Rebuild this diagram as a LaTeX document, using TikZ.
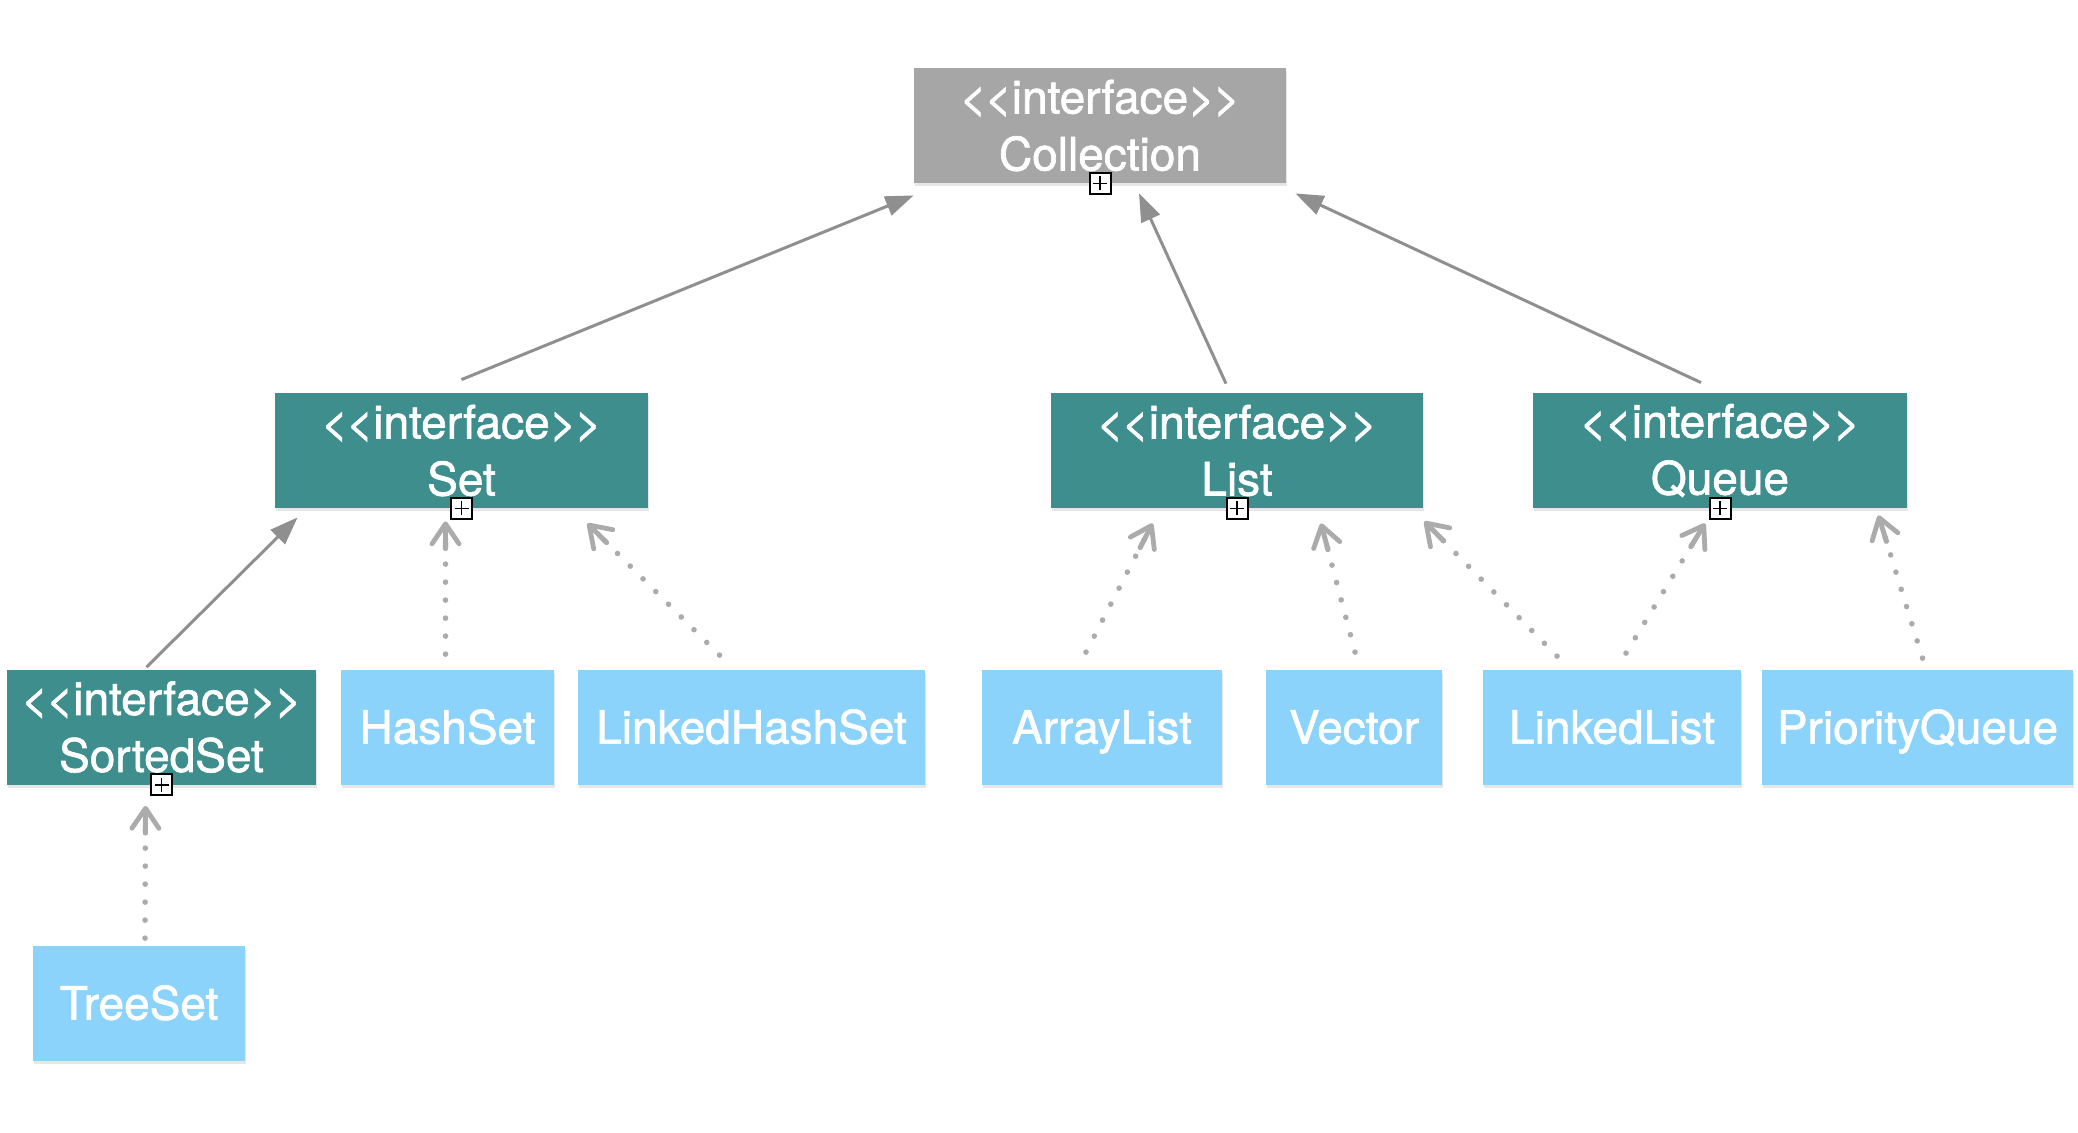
\documentclass[tikz,border=0pt]{standalone}
\usepackage{fontspec}
\setmainfont{TeX Gyre Heros}[FakeBold=1.4]
\usetikzlibrary{arrows.meta,shadows,calc}
\definecolor{collgray}{HTML}{A6A6A6}
\definecolor{ifteal}{HTML}{3E8E8E}
\definecolor{clblue}{HTML}{8CD3FB}
\definecolor{solidgray}{HTML}{8F8F8F}
\definecolor{dotgray}{HTML}{ABABAB}
\newcommand{\stereo}{<\kern-0.8pt<interface>\kern-0.8pt>}
\begin{document}
\begin{tikzpicture}[x=0.5pt,y=-0.5pt,
  boxbase/.style={rectangle, inner sep=0pt, text=white,
    font=\fontsize{23}{28.5}\selectfont, align=center, minimum height=57.5pt,
    drop shadow={shadow xshift=0.6pt, shadow yshift=-1.6pt, opacity=0.2}},
  iface/.style={boxbase, fill=ifteal},
  rootbox/.style={boxbase, fill=collgray},
  cls/.style={boxbase, fill=clblue, text height=16.6pt, text depth=0pt},
  marker/.style={draw=black, fill=white, line width=1pt, minimum size=10.5pt,
    inner sep=0pt,
    path picture={\draw[line width=0.7pt]
      ($(path picture bounding box.center)+(-7,0)$) -- ($(path picture bounding box.center)+(7,0)$)
      ($(path picture bounding box.center)+(0,-7)$) -- ($(path picture bounding box.center)+(0,7)$);}},
  extends/.style={draw=solidgray, line width=1.5pt,
    -{Triangle[length=14pt,width=10pt]}},
  realizes/.style={draw=dotgray, line width=2.8pt, line cap=round,
    dash pattern=on 0pt off 9pt,
    -{Straight Barb[length=10pt,width=0.2pt,line width=2.4pt,round,sep=-10pt]
      Straight Barb[length=10pt,width=13.5pt,line width=2.4pt,round]}}
]
\useasboundingbox (0,0) rectangle (2078,1132);

% interface boxes
\node[rootbox, minimum width=186pt] (coll) at (1100,125.5) {\stereo\\Collection};
\node[iface, minimum width=186.5pt] (set) at (461.5,450.5) {\stereo\\Set};
\node[iface, minimum width=186pt] (list) at (1237,450.5) {\stereo\\List};
\node[iface, minimum width=187pt] (queue) at (1720,450.5) {\stereo\\Queue};
\node[iface, minimum width=154.5pt] (sorted) at (161.5,727) {\stereo\\SortedSet};

% classes
\node[cls, minimum width=106.5pt] (hashset) at (447.5,727) {HashSet};
\node[cls, minimum width=173.5pt] (lhs) at (751.5,727) {LinkedHashSet};
\node[cls, minimum width=120pt] (arraylist) at (1102,727) {ArrayList};
\node[cls, minimum width=88pt] (vector) at (1354,727) {Vector};
\node[cls, minimum width=129pt] (linkedlist) at (1612,727) {LinkedList};
\node[cls, minimum width=155.5pt] (pq) at (1917.5,727) {PriorityQueue};
\node[cls, minimum width=106pt] (treeset) at (139,1003) {TreeSet};

% markers
\node[marker] (collm) at (coll.south) {};
\node[marker] (setm) at (set.south) {};
\node[marker] (listm) at (list.south) {};
\node[marker] (queuem) at (queue.south) {};
\node[marker] (sortedm) at (sorted.south) {};

% generalisation
\draw[extends] ($(set.north)+(0,-13)$) -- ($(coll.south west)+(0,12)$);
\draw[extends] ($(list.north)+(-11,-9)$) -- ($(coll.south)+(39,10)$);
\draw[extends] ($(queue.north)+(-19,-10)$) -- ($(coll.south east)+(9,10)$);
\draw[extends] ($(sorted.north)+(-15,-2)$) -- ($(set.south west)+(23,9)$);

% realisation
\draw[realizes] ($(hashset.north)+(-2,-15)$) -- ($(set.south)+(-16,13)$);
\draw[realizes] ($(lhs.north)+(-32,-14)$) -- ($(set.south east)+(-61,15)$);
\draw[realizes] ($(arraylist.north)+(-16,-17)$) -- ($(list.south west)+(102,15)$);
\draw[realizes] ($(vector.north)+(1,-17)$) -- ($(list.south)+(84,15)$);
\draw[realizes] ($(linkedlist.north)+(-55,-13)$) -- ($(list.south east)+(1,13)$);
\draw[realizes] ($(linkedlist.north)+(14,-16)$) -- ($(queue.south)+(-15,15)$);
\draw[realizes] ($(pq.north)+(5,-11)$) -- ($(queue.south east)+(-29,7)$);
\draw[realizes] ($(treeset.north)+(6,-7)$) -- ($(sorted.south)+(-16,21)$);
\end{tikzpicture}
\end{document}
